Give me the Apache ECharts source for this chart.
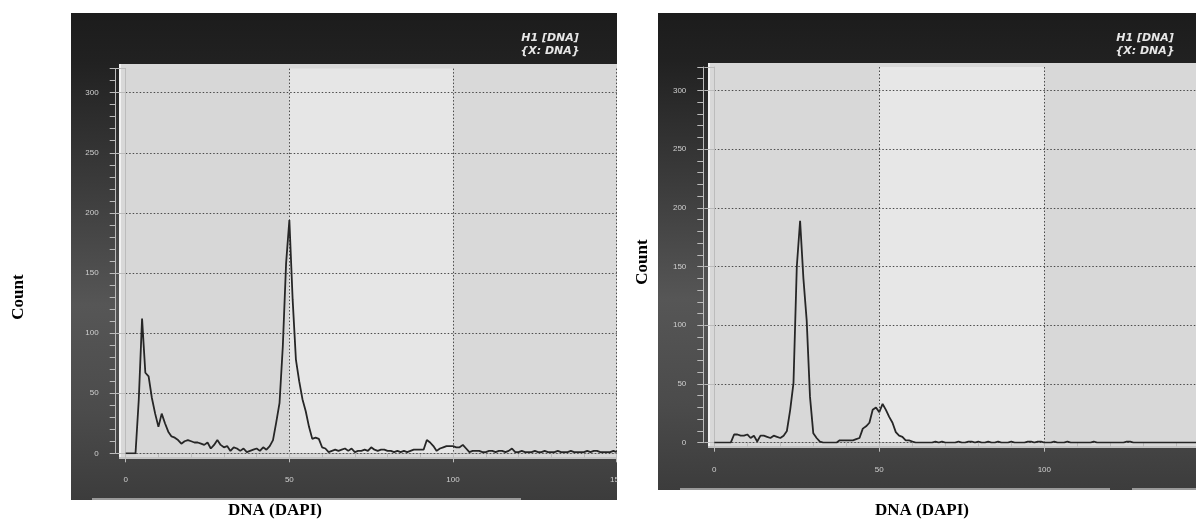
<!DOCTYPE html>
<html><head><meta charset="utf-8">
<script src="https://cdn.jsdelivr.net/npm/echarts@6/dist/echarts.min.js"></script>
<style>html,body{margin:0;padding:0;background:#fff;}#c{width:1196px;height:519px;}</style>
</head><body><div id="c"></div>
<script>
// ---- data ----
const dnaBins = Array.from({length: 151}, (_, i) => i); // DNA (DAPI) channel 0..150
const leftCounts = [
  0,0,0,0,45,112,67,64,46,33, 22,33,25,18,14,13,11,8,10,11,
  10,9,9,8,7,9,4,7,11,7, 5,6,2,5,4,2,4,1,2,3,
  4,2,5,3,6,11,26,42,89,158, 194,128,78,60,45,35,22,12,13,12,
  5,4,1,2,3,2,3,4,2,4, 1,2,2,3,2,5,3,2,3,3,
  2,2,1,2,1,2,1,2,3,3, 3,3,11,9,6,2,4,5,6,6,
  6,5,5,7,4,1,2,2,2,1, 1,2,2,1,2,2,1,2,4,1,
  1,2,1,1,1,2,1,1,2,1, 1,1,2,1,1,1,2,1,1,1,
  1,2,1,2,2,1,1,1,1,2, 1
];
const rightCounts = [
  0,0,0,0,0,0,7,7,6,6, 7,4,6,1,6,6,5,4,6,5,
  4,6,10,28,51,150,189,140,104,39, 8,4,1,0,0,0,0,0,2,2,
  2,2,2,3,4,12,14,17,28,30, 26,33,28,22,17,9,6,5,2,2,
  1,0,0,0,0,0,0,1,0,1, 0,0,0,0,1,0,0,1,1,0,
  1,0,0,1,0,0,1,0,0,0, 1,0,0,0,0,1,1,0,1,1,
  0,0,0,1,0,0,0,1,0,0, 0,0,0,0,0,1,0,0,0,0,
  0,0,0,0,0,1,1,0,0,0, 0,0,0,0,0,0,0,0,0,0,
  0,0,0,0,0,0,0,0,0,0, 0
];
const xTickValues = [0, 50, 100, 150];
const yMajorStep = 50;
const yMinorStep = 10;
const panelTitle = 'H1 [DNA]\n{X: DNA}';
const xTitle = 'DNA (DAPI)';
const yTitle = 'Count';

// ---- styling helpers ----
const rulerColor = '#bcbcbc';
const labelStyle = {color: '#cfcfcf', fontSize: 8, fontFamily: 'Liberation Sans'};
const gridDot = {color: '#4a4a4a', width: 1, type: [1.5, 2]};
const panelFill = {type: 'linear', x: 0, y: 0, x2: 0, y2: 1, colorStops: [
  {offset: 0, color: '#1c1c1c'}, {offset: 0.1, color: '#212121'},
  {offset: 0.35, color: '#3b3b3b'}, {offset: 0.6, color: '#565656'},
  {offset: 0.82, color: '#4b4b4b'}, {offset: 1, color: '#3c3c3c'}]};

function axesFor(g, xOffset, yOffset, bandColors) {
  const xA = {
    type: 'value', gridIndex: g, min: xTickValues[0], max: xTickValues[xTickValues.length - 1],
    interval: 50, position: 'bottom', offset: xOffset, z: 0,
    axisLine: {show: true, lineStyle: {color: rulerColor, width: 1}},
    axisTick: {show: true, length: 9, lineStyle: {color: rulerColor}},
    minorTick: {show: true, splitNumber: 5, length: 4, lineStyle: {color: rulerColor}},
    axisLabel: Object.assign({margin: 13}, labelStyle),
    splitLine: {show: true, lineStyle: gridDot},
    splitArea: {show: true, areaStyle: {color: bandColors}}
  };
  const yMaj = {
    type: 'value', gridIndex: g, min: 0, max: 320, interval: yMajorStep, position: 'left', offset: yOffset, z: 1,
    axisLine: {show: true, lineStyle: {color: rulerColor, width: 1}},
    axisTick: {show: true, length: 10, lineStyle: {color: rulerColor}},
    axisLabel: Object.assign({margin: 17, formatter: v => (v % yMajorStep === 0 ? String(v) : '')}, labelStyle),
    splitLine: {show: true, showMaxLine: false, lineStyle: gridDot}
  };
  const yMin = {
    type: 'value', gridIndex: g, min: 0, max: 320, interval: yMinorStep, position: 'left', offset: yOffset, z: 1,
    axisLine: {show: true, lineStyle: {color: rulerColor, width: 1}},
    axisTick: {show: true, length: 6, lineStyle: {color: rulerColor}},
    axisLabel: {show: false}, splitLine: {show: false}
  };
  return {xA, yMaj, yMin};
}

const A = axesFor(0, 9.4, 10, ['#d7d7d7', '#e6e6e6', '#d9d9d9']);
const B = axesFor(1, 9.6, 11, ['#d8d8d8', '#e7e7e7', '#d8d8d8']);

const chart = echarts.init(document.getElementById('c'), null, {renderer: 'canvas'});
chart.setOption({
  animation: false,
  backgroundColor: '#ffffff',
  title: [
    {text: panelTitle, left: 545, top: 27, textAlign: 'center',
     textStyle: {color: '#e6e6e6', fontSize: 11, fontWeight: 'bold', fontStyle: 'italic', fontFamily: 'DejaVu Sans', lineHeight: 13}},
    {text: panelTitle, left: 1140, top: 27, textAlign: 'center',
     textStyle: {color: '#e6e6e6', fontSize: 11, fontWeight: 'bold', fontStyle: 'italic', fontFamily: 'DejaVu Sans', lineHeight: 13}}
  ],
  grid: [
    {left: 125.7, width: 491, top: 68.6, height: 384.7, outerBoundsMode: 'none', containLabel: false},
    {left: 714.3, width: 495, top: 67, height: 375.7, outerBoundsMode: 'none', containLabel: false}
  ],
  xAxis: [A.xA, B.xA],
  yAxis: [A.yMaj, A.yMin, B.yMaj, B.yMin],
  series: [
    {type: 'line', xAxisIndex: 0, yAxisIndex: 0, showSymbol: false, symbol: 'none',
     data: dnaBins.map((x, i) => [x, leftCounts[i]]),
     lineStyle: {color: '#262626', width: 1.8}, z: 5},
    {type: 'line', xAxisIndex: 1, yAxisIndex: 2, showSymbol: false, symbol: 'none',
     data: dnaBins.map((x, i) => [x, rightCounts[i]]),
     lineStyle: {color: '#262626', width: 1.8}, z: 5}
  ],
  graphic: [
    // dark instrument panels
    {type: 'rect', z: -20, shape: {x: 71, y: 13, width: 546, height: 487}, style: {fill: panelFill}},
    {type: 'rect', z: -20, shape: {x: 658, y: 13, width: 538, height: 477}, style: {fill: panelFill}},
    // plot backgrounds with light frame
    {type: 'rect', z: -15, shape: {x: 119, y: 64, width: 498, height: 395}, style: {fill: '#d8d8d8'}},
    {type: 'rect', z: -15, shape: {x: 708, y: 63, width: 488, height: 385}, style: {fill: '#d8d8d8'}},
    {type: 'line', z: -14, shape: {x1: 120, y1: 64, x2: 120, y2: 459}, style: {stroke: '#f2f2f2', lineWidth: 2}},
    {type: 'line', z: -14, shape: {x1: 709, y1: 63, x2: 709, y2: 448}, style: {stroke: '#f2f2f2', lineWidth: 2}},
    {type: 'line', z: -14, shape: {x1: 119, y1: 458, x2: 617, y2: 458}, style: {stroke: '#c4c4c4', lineWidth: 2}},
    {type: 'line', z: -14, shape: {x1: 708, y1: 447, x2: 1196, y2: 447}, style: {stroke: '#c4c4c4', lineWidth: 2}},
    // tab outlines at the panel bottoms
    {type: 'line', z: -14, shape: {x1: 92, y1: 499, x2: 521, y2: 499}, style: {stroke: '#b8b8b8', lineWidth: 1.5}},
    {type: 'line', z: -14, shape: {x1: 680, y1: 489, x2: 1110, y2: 489}, style: {stroke: '#b8b8b8', lineWidth: 1.5}},
    {type: 'line', z: -14, shape: {x1: 1132, y1: 489, x2: 1196, y2: 489}, style: {stroke: '#b8b8b8', lineWidth: 1.5}},
    // white gap between the two cropped panels (clips the last label of the left ruler)
    {type: 'rect', z: 100, shape: {x: 617.5, y: 466, width: 22, height: 30}, style: {fill: '#ffffff'}},
    // axis titles
    {type: 'text', z: 10, x: 19, y: 297, rotation: Math.PI / 2,
     style: {text: yTitle, fill: '#000', font: 'bold 17px "Liberation Serif"', align: 'center', verticalAlign: 'middle'}},
    {type: 'text', z: 10, x: 643, y: 262, rotation: Math.PI / 2,
     style: {text: yTitle, fill: '#000', font: 'bold 17px "Liberation Serif"', align: 'center', verticalAlign: 'middle'}},
    {type: 'text', z: 10, x: 275, y: 511,
     style: {text: xTitle, fill: '#000', font: 'bold 17px "Liberation Serif"', align: 'center', verticalAlign: 'middle'}},
    {type: 'text', z: 10, x: 922, y: 511,
     style: {text: xTitle, fill: '#000', font: 'bold 17px "Liberation Serif"', align: 'center', verticalAlign: 'middle'}}
  ]
});
</script></body></html>
